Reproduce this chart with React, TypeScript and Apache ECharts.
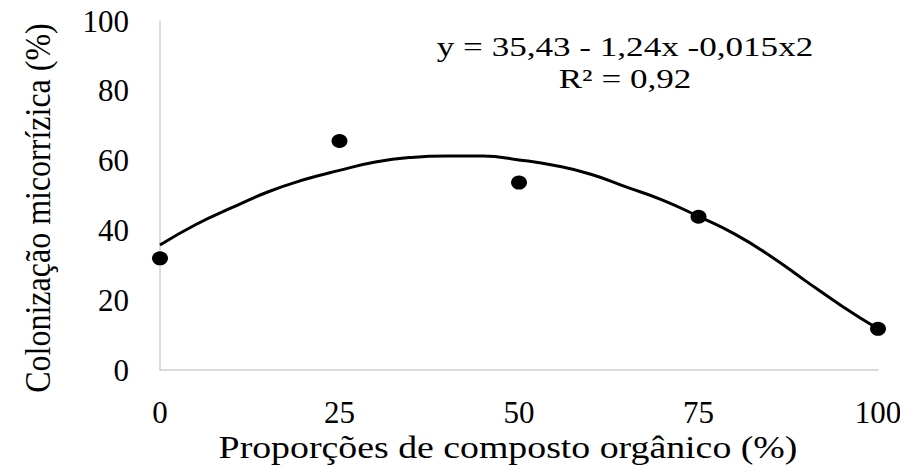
import React, { useEffect, useRef } from "react";
import * as echarts from "echarts";

const observedX = [0, 25, 50, 75, 100];
const observedY = [32, 65.6, 53.7, 43.9, 11.8];

const trendX = [0, 5, 10, 15, 20, 25, 30, 35, 40, 45, 50, 55, 60, 65, 70, 75, 80, 85, 90, 95, 100];
const trendY = [35.8, 41.7, 46.5, 51.0, 54.5, 57.2, 59.6, 60.9, 61.3, 61.3, 60.2, 58.6, 56.1, 52.4, 48.7, 44.0, 39.0, 32.7, 25.4, 18.3, 11.8];

const xTicks = [0, 25, 50, 75, 100];
const yTicks = [0, 20, 40, 60, 80, 100];

const xTitle = "Proporções de composto orgânico (%)";
const yTitle = "Colonização micorrízica (%)";
const equationLine1 = "y = 35,43 - 1,24x -0,015x2";
const equationLine2 = "R² = 0,92";

const FONT = "Tinos";

export default function App() {
  const ref = useRef<HTMLDivElement>(null);
  useEffect(() => {
    if (!ref.current) return;
    const chart = echarts.init(ref.current, undefined, { renderer: "svg" });
    chart.setOption({
      animation: false,
      backgroundColor: "#ffffff",
      grid: { left: 160, right: 30, top: 21, bottom: 99, containLabel: false },
      xAxis: {
        type: "value",
        min: xTicks[0],
        max: xTicks[xTicks.length - 1],
        interval: 25,
        axisLine: { show: true, lineStyle: { color: "#d0d0d0", width: 1.5 } },
        axisTick: { show: false },
        splitLine: { show: false },
        axisLabel: {
          margin: 27,
          color: "#000",
          fontFamily: FONT,
          fontSize: 31,
          formatter: (v: number) => (xTicks.includes(v) ? String(v) : ""),
        },
      },
      yAxis: {
        type: "value",
        min: yTicks[0],
        max: yTicks[yTicks.length - 1],
        interval: 20,
        axisLine: { show: true, lineStyle: { color: "#d0d0d0", width: 1.5 } },
        axisTick: { show: false },
        splitLine: { show: false },
        axisLabel: {
          margin: 31,
          color: "#000",
          fontFamily: FONT,
          fontSize: 31,
        },
      },
      graphic: [
        {
          type: "text",
          x: 508,
          y: 447,
          scaleX: 1.22,
          style: {
            text: xTitle,
            fill: "#000",
            fontFamily: FONT,
            fontSize: 31,
            textAlign: "center",
            textVerticalAlign: "middle",
          },
        },
        {
          type: "text",
          x: 38,
          y: 208,
          rotation: Math.PI / 2,
          scaleY: 1.1,
          style: {
            text: yTitle,
            fill: "#000",
            fontFamily: FONT,
            fontSize: 32,
            textAlign: "center",
            textVerticalAlign: "middle",
          },
        },
        {
          type: "text",
          x: 625,
          y: 47,
          scaleX: 1.3,
          style: {
            text: equationLine1,
            fill: "#000",
            fontFamily: FONT,
            fontSize: 27,
            textAlign: "center",
            textVerticalAlign: "middle",
          },
        },
        {
          type: "text",
          x: 625,
          y: 79,
          scaleX: 1.3,
          style: {
            text: equationLine2,
            fill: "#000",
            fontFamily: FONT,
            fontSize: 27,
            textAlign: "center",
            textVerticalAlign: "middle",
          },
        },
      ],
      series: [
        {
          type: "line",
          data: trendX.map((x, i) => [x, trendY[i]]),
          smooth: true,
          showSymbol: false,
          lineStyle: { color: "#000", width: 3 },
          z: 2,
        },
        {
          type: "scatter",
          data: observedX.map((x, i) => [x, observedY[i]]),
          symbol: "circle",
          symbolSize: [16, 14],
          itemStyle: { color: "#000", opacity: 1 },
          z: 3,
        },
      ],
    });
    return () => chart.dispose();
  }, []);
  return (
    <div
      ref={ref}
      style={{ width: 908, height: 469, marginLeft: -8, marginTop: -8 }}
    />
  );
}
